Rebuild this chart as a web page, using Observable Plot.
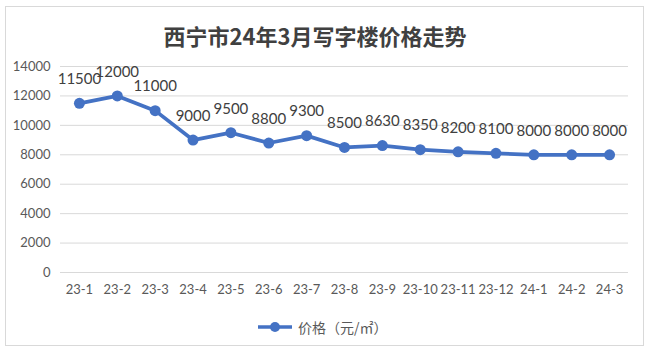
<!DOCTYPE html>
<html><head><meta charset="utf-8">
<script src="https://cdn.jsdelivr.net/npm/d3@7"></script>
<script src="https://cdn.jsdelivr.net/npm/@observablehq/plot@0.6"></script>
<style>
html,body{margin:0;padding:0;background:#fff;}
#wrap{position:relative;width:650px;height:357px;overflow:hidden;}
#frame{position:absolute;left:5px;top:6px;width:639px;height:340px;border:1px solid #d9d9d9;box-sizing:border-box;}
#title{position:absolute;left:0;width:630px;top:20px;text-align:center;font-family:"Noto Sans CJK SC",sans-serif;font-weight:700;font-size:22px;color:#404040;line-height:30px;}
#chart{position:absolute;left:0;top:50px;}
#legend{position:absolute;left:257px;top:316px;height:22px;display:flex;align-items:center;font-family:"Noto Sans CJK SC",sans-serif;font-size:14px;color:#595959;}
#legend svg{margin-right:5px;}
</style></head>
<body><div id="wrap"><div id="frame"></div><div id="title">西宁市24年3月写字楼价格走势</div><div id="chart"></div>
<div id="legend"><svg width="36" height="12"><line x1="1" y1="6" x2="35" y2="6" stroke="#4472C4" stroke-width="3.5"/><circle cx="18" cy="6" r="5" fill="#4472C4"/></svg><span>价格（元/㎡）</span></div></div>
<script>
const months = ["23-1","23-2","23-3","23-4","23-5","23-6","23-7","23-8","23-9","23-10","23-11","23-12","24-1","24-2","24-3"];
const prices = [11500,12000,11000,9000,9500,8800,9300,8500,8630,8350,8200,8100,8000,8000,8000];
const yTicks = [0,2000,4000,6000,8000,10000,12000,14000];
const data = months.map((m,i)=>({i, month:m, price:prices[i]}));
const idx = months.map((m,i)=>i);
const color = "#4472C4";
const chart = Plot.plot({
  width: 650, height: 260,
  marginLeft: 60, marginRight: 22, marginTop: 16, marginBottom: 38,
  style: {fontFamily: "Lato, sans-serif", fontSize: "13px", color: "#595959", background: "transparent"},
  x: {domain: [-0.5, months.length - 0.5], label: null},
  y: {domain: [0,14000], label: null},
  marks: [
    Plot.ruleY(yTicks, {stroke: "#d9d9d9", strokeWidth: 1}),
    Plot.axisX({ticks: idx, tickFormat: i => months[i], tickSize: 0, tickPadding: 12, fontSize: 13, label: null}),
    Plot.axisY({ticks: yTicks, tickSize: 0, tickPadding: 10, fontSize: 13, tickFormat: d => String(d), label: null}),
    Plot.line(data, {x: "i", y: "price", stroke: color, strokeWidth: 3.75}),
    Plot.dot(data, {x: "i", y: "price", fill: color, r: 5.5}),
    Plot.text(data, {x: "i", y: "price", text: d => String(d.price), dy: -24, fill: "#404040", fontSize: 15})
  ]
});
document.getElementById("chart").appendChild(chart);
</script></body></html>
